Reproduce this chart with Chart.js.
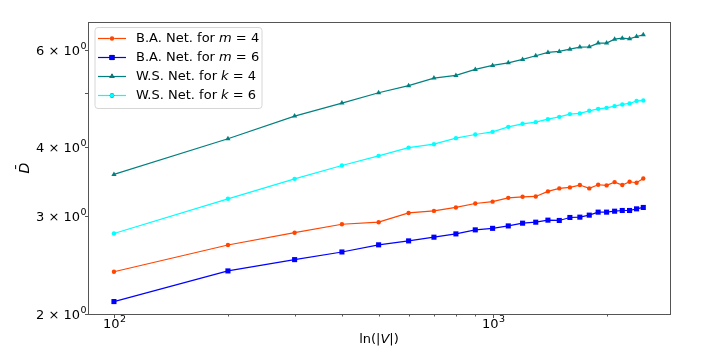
<!DOCTYPE html>
<html>
<head>
<meta charset="utf-8">
<script src="https://cdn.jsdelivr.net/npm/chart.js@4/dist/chart.umd.min.js"></script>
<style>
  html, body { margin: 0; padding: 0; background: #fff; }
  #wrap { width: 718px; height: 354px; }
</style>
</head>
<body>
<div id="wrap"><canvas id="chart" width="718" height="354"></canvas></div>
<script>
const nodes = [100, 200, 300, 400, 500, 600, 700, 800, 900, 1000, 1100, 1200, 1300,
  1400, 1500, 1600, 1700, 1800, 1900, 2000, 2100, 2200, 2300, 2400, 2500];

const baM4 = [2.38, 2.66, 2.80, 2.90, 2.925, 3.04, 3.066, 3.11, 3.162, 3.186, 3.237, 3.251, 3.256,
  3.325, 3.367, 3.381, 3.414, 3.367, 3.418, 3.409, 3.456, 3.414, 3.461, 3.447, 3.509];
const baM6 = [2.102, 2.388, 2.503, 2.584, 2.662, 2.706, 2.748, 2.786, 2.833, 2.851, 2.880, 2.913, 2.925,
  2.950, 2.946, 2.983, 2.987, 3.012, 3.050, 3.050, 3.062, 3.071, 3.071, 3.092, 3.110];
const wsK4 = [3.569, 4.139, 4.549, 4.802, 5.013, 5.164, 5.328, 5.388, 5.524, 5.618, 5.679, 5.760, 5.847,
  5.929, 5.954, 6.011, 6.062, 6.069, 6.164, 6.164, 6.266, 6.292, 6.275, 6.336, 6.380];
const wsK6 = [2.790, 3.224, 3.503, 3.703, 3.855, 3.989, 4.047, 4.150, 4.214, 4.260, 4.350, 4.405, 4.436,
  4.492, 4.535, 4.587, 4.600, 4.650, 4.688, 4.708, 4.742, 4.775, 4.795, 4.846, 4.854];

const seriesNames = ['B.A. Net. for m = 4', 'B.A. Net. for m = 6', 'W.S. Net. for k = 4', 'W.S. Net. for k = 6'];
const xTicks = [100, 200, 300, 400, 500, 600, 700, 800, 900, 1000, 2000];
// [base, exponent] for the labelled ticks
const xTickLabels = { 100: ['10', '2'], 1000: ['10', '3'] };
const yTicks = [2, 3, 4, 5, 6];
const yTickLabels = { 2: ['2 × 10', '0'], 3: ['3 × 10', '0'], 4: ['4 × 10', '0'], 6: ['6 × 10', '0'] };

const FONT = "'DejaVu Sans', sans-serif";

function pts(ys) {
  return nodes.map((x, i) => ({ x: x, y: ys[i] }));
}

function series(label, ys, color, style, radius) {
  return {
    label: label,
    data: pts(ys),
    borderColor: color,
    backgroundColor: color,
    borderWidth: 1.2,
    pointStyle: style,
    pointRadius: radius,
    pointBorderWidth: 0,
    tension: 0
  };
}

function powLabel(ctx, lab) {
  ctx.font = '13px ' + FONT;
  const w1 = ctx.measureText(lab[0]).width;
  ctx.font = '9.5px ' + FONT;
  const w2 = ctx.measureText(lab[1]).width;
  return { w: w1 + w2 + 0.5, w1: w1 };
}

function drawPow(ctx, lab, x, y) {
  const m = powLabel(ctx, lab);
  ctx.textBaseline = 'middle';
  ctx.textAlign = 'left';
  ctx.font = '13px ' + FONT;
  ctx.fillText(lab[0], x, y);
  ctx.font = '9.5px ' + FONT;
  ctx.fillText(lab[1], x + m.w1 + 0.5, y - 5.5);
}

// frame, tick marks, tick labels, legend and x title in matplotlib style
const decor = {
  id: 'decor',
  afterDraw(chart) {
    const ctx = chart.ctx;
    const a = chart.chartArea;
    const xs = chart.scales.x, ys = chart.scales.y;
    ctx.save();
    ctx.strokeStyle = '#555';
    ctx.lineWidth = 1;
    ctx.strokeRect(Math.round(a.left) + 0.5, Math.round(a.top) + 0.5,
      Math.round(a.right - a.left), Math.round(a.bottom - a.top));

    ctx.fillStyle = '#000';
    ctx.beginPath();
    xTicks.forEach(v => {
      const px = Math.round(xs.getPixelForValue(v)) + 0.5;
      const lab = xTickLabels[v];
      ctx.moveTo(px, a.bottom);
      ctx.lineTo(px, a.bottom + (lab ? 4 : 2.5));
      if (lab) {
        const m = powLabel(ctx, lab);
        drawPow(ctx, lab, px - m.w / 2, a.bottom + 11);
      }
    });
    yTicks.forEach(v => {
      const py = Math.round(ys.getPixelForValue(v)) + 0.5;
      const lab = yTickLabels[v];
      ctx.moveTo(a.left, py);
      ctx.lineTo(a.left - 3, py);
      if (lab) {
        const m = powLabel(ctx, lab);
        drawPow(ctx, lab, a.left - 1.5 - m.w, py + 1.5);
      }
    });
    ctx.stroke();

    // x title: ln(|V|)
    ctx.textBaseline = 'middle';
    const parts = [['ln(|', ''], ['V', 'italic '], ['|)', '']];
    let w = 0;
    parts.forEach(p => { ctx.font = p[1] + '13px ' + FONT; w += ctx.measureText(p[0]).width; });
    let x = (a.left + a.right) / 2 - w / 2;
    parts.forEach(p => {
      ctx.font = p[1] + '13px ' + FONT;
      ctx.fillText(p[0], x, 339.5);
      x += ctx.measureText(p[0]).width;
    });

    // legend
    const bx = 95, by = 27.5, bw = 167, bh = 81;
    ctx.beginPath();
    ctx.roundRect(bx, by, bw, bh, 3);
    ctx.fillStyle = 'rgba(255,255,255,0.8)';
    ctx.fill();
    ctx.strokeStyle = '#d6d6d6';
    ctx.stroke();

    chart.data.datasets.forEach((ds, i) => {
      const cy = 38.5 + i * 19;
      ctx.strokeStyle = ds.borderColor;
      ctx.lineWidth = 1.2;
      ctx.beginPath();
      ctx.moveTo(98, cy);
      ctx.lineTo(126, cy);
      ctx.stroke();
      Chart.helpers.drawPoint(ctx, { pointStyle: ds.pointStyle, radius: ds.pointRadius, borderWidth: 0, rotation: 0 }, 112, cy);
      ctx.fillStyle = ds.backgroundColor;
      ctx.fill();

      const m = ds.label.match(/^(.*for )(\w)( = \d)$/);
      const segs = [[m[1], ''], [m[2], 'italic '], [m[3], '']];
      let tx = 136;
      ctx.fillStyle = '#000';
      segs.forEach(s => {
        ctx.font = s[1] + '13px ' + FONT;
        ctx.fillText(s[0], tx, cy + 0.5);
        tx += ctx.measureText(s[0]).width;
      });
    });
    ctx.restore();
  }
};

new Chart(document.getElementById('chart'), {
  type: 'line',
  data: {
    datasets: [
      series(seriesNames[0], baM4, '#ff4500', 'circle', 2.2),
      series(seriesNames[1], baM6, '#0000ff', 'rect', 3.6),
      series(seriesNames[2], wsK4, '#008080', 'triangle', 3),
      series(seriesNames[3], wsK6, '#00ffff', 'circle', 2.2)
    ]
  },
  options: {
    responsive: false,
    animation: false,
    devicePixelRatio: 1,
    layout: { padding: { top: 22, right: 48, left: 0, bottom: 0 } },
    plugins: {
      legend: { display: false },
      tooltip: { enabled: false }
    },
    scales: {
      x: {
        type: 'logarithmic',
        min: 85.4,
        max: 2941,
        afterBuildTicks: s => { s.ticks = xTicks.map(v => ({ value: v })); },
        afterFit: s => { s.height = 40; },
        grid: { display: false },
        border: { display: false },
        ticks: { autoSkip: false, maxRotation: 0, callback: () => '' }
      },
      y: {
        type: 'logarithmic',
        min: 1.996,
        max: 6.73,
        afterBuildTicks: s => { s.ticks = yTicks.map(v => ({ value: v })); },
        afterFit: s => { s.width = 88; },
        grid: { display: false },
        border: { display: false },
        ticks: { autoSkip: false, callback: () => '' },
        title: {
          display: true,
          text: 'D\u0304',
          color: '#000',
          font: { family: FONT, size: 14, style: 'italic' },
          padding: { top: 17, bottom: 0 }
        }
      }
    }
  },
  plugins: [decor]
});
</script>
</body>
</html>
